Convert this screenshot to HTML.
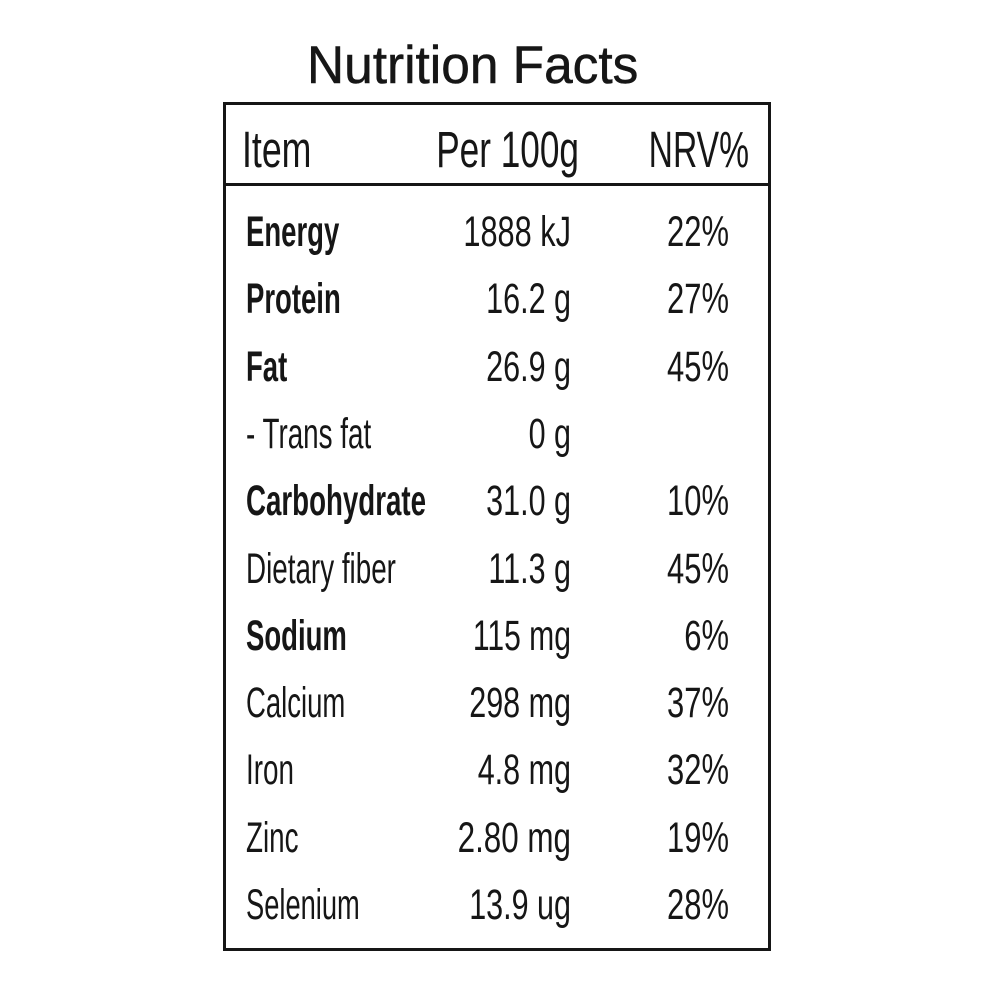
<!DOCTYPE html>
<html>
<head>
<meta charset="utf-8">
<style>
  html, body { margin:0; padding:0; background:#fff; }
  body { width:1000px; height:1000px; overflow:hidden; }
  svg { display:block; }
  text { font-family: "Liberation Sans", Arial, sans-serif; fill:#161616; }
  .t { font-size:53px; stroke:#161616; stroke-width:0.5px; }
  .h { font-size:51px; }
  .r { font-size:43px; }
  .b { font-weight:bold; }
</style>
</head>
<body>
<svg width="1000" height="1000" viewBox="0 0 1000 1000" xmlns="http://www.w3.org/2000/svg">
  <rect x="0" y="0" width="1000" height="1000" fill="#fff"/>
  <!-- Title -->
  <text class="t" transform="translate(307,83) scale(0.97,1)">Nutrition Facts</text>

  <!-- Box -->
  <rect x="224.5" y="103.5" width="545" height="846" fill="none" stroke="#161616" stroke-width="3"/>
  <line x1="224" y1="184.5" x2="770" y2="184.5" stroke="#161616" stroke-width="3"/>

  <!-- Header -->
  <text class="h" transform="translate(242,167) scale(0.70,1)">Item</text>
  <text class="h" text-anchor="end" transform="translate(579,167) scale(0.69,1)">Per 100g</text>
  <text class="h" text-anchor="end" transform="translate(749,167) scale(0.66,1)">NRV%</text>

  <!-- Rows -->
  <g>
    <text class="r b" transform="translate(246,246) scale(0.64,1)">Energy</text>
    <text class="r" text-anchor="end" transform="translate(571,246) scale(0.715,1)">1888 kJ</text>
    <text class="r" text-anchor="end" transform="translate(729,246) scale(0.72,1)">22%</text>

    <text class="r b" transform="translate(246,313) scale(0.64,1)">Protein</text>
    <text class="r" text-anchor="end" transform="translate(571,313) scale(0.71,1)">16.2 g</text>
    <text class="r" text-anchor="end" transform="translate(729,313) scale(0.72,1)">27%</text>

    <text class="r b" transform="translate(246,381) scale(0.64,1)">Fat</text>
    <text class="r" text-anchor="end" transform="translate(571,381) scale(0.71,1)">26.9 g</text>
    <text class="r" text-anchor="end" transform="translate(729,381) scale(0.72,1)">45%</text>

    <text class="r" transform="translate(246,448) scale(0.647,1)">- Trans fat</text>
    <text class="r" text-anchor="end" transform="translate(571,448) scale(0.71,1)">0 g</text>

    <text class="r b" transform="translate(246,515) scale(0.644,1)">Carbohydrate</text>
    <text class="r" text-anchor="end" transform="translate(571,515) scale(0.71,1)">31.0 g</text>
    <text class="r" text-anchor="end" transform="translate(729,515) scale(0.72,1)">10%</text>

    <text class="r" transform="translate(246,583) scale(0.647,1)">Dietary fiber</text>
    <text class="r" text-anchor="end" transform="translate(571,583) scale(0.71,1)">11.3 g</text>
    <text class="r" text-anchor="end" transform="translate(729,583) scale(0.72,1)">45%</text>

    <text class="r b" transform="translate(246,650) scale(0.64,1)">Sodium</text>
    <text class="r" text-anchor="end" transform="translate(571,650) scale(0.70,1)">115 mg</text>
    <text class="r" text-anchor="end" transform="translate(729,650) scale(0.72,1)">6%</text>

    <text class="r" transform="translate(246,717) scale(0.64,1)">Calcium</text>
    <text class="r" text-anchor="end" transform="translate(571,717) scale(0.71,1)">298 mg</text>
    <text class="r" text-anchor="end" transform="translate(729,717) scale(0.72,1)">37%</text>

    <text class="r" transform="translate(246,784) scale(0.647,1)">Iron</text>
    <text class="r" text-anchor="end" transform="translate(571,784) scale(0.71,1)">4.8 mg</text>
    <text class="r" text-anchor="end" transform="translate(729,784) scale(0.72,1)">32%</text>

    <text class="r" transform="translate(246,852) scale(0.647,1)">Zinc</text>
    <text class="r" text-anchor="end" transform="translate(571,852) scale(0.73,1)">2.80 mg</text>
    <text class="r" text-anchor="end" transform="translate(729,852) scale(0.72,1)">19%</text>

    <text class="r" transform="translate(246,919) scale(0.635,1)">Selenium</text>
    <text class="r" text-anchor="end" transform="translate(571,919) scale(0.71,1)">13.9 ug</text>
    <text class="r" text-anchor="end" transform="translate(729,919) scale(0.72,1)">28%</text>
  </g>
</svg>
</body>
</html>
